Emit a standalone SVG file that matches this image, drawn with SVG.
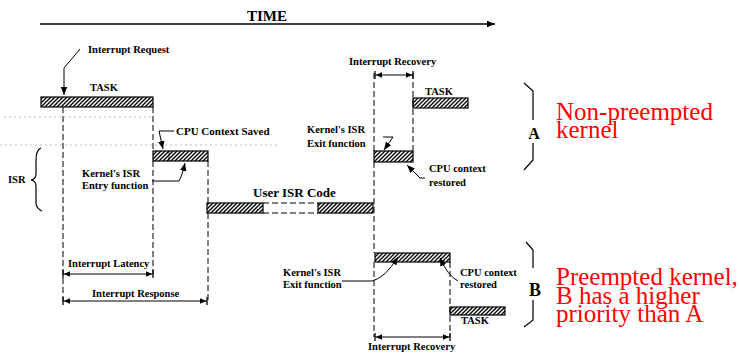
<svg xmlns="http://www.w3.org/2000/svg" width="740" height="357" viewBox="0 0 740 357">
<defs>
<pattern id="hatch" patternUnits="userSpaceOnUse" width="4" height="4">
<path d="M-1,1 L1,-1 M0,4 L4,0 M3,5 L5,3" stroke="#000" stroke-width="1.3"/>
</pattern>
<marker id="ah" viewBox="0 0 10 10" refX="10" refY="5" markerWidth="8" markerHeight="8" markerUnits="userSpaceOnUse" orient="auto"><path d="M0,1 L10,5 L0,9 z" fill="#000"/></marker>
<marker id="dim" viewBox="0 0 10 10" refX="9" refY="5" markerWidth="8" markerHeight="8" markerUnits="userSpaceOnUse" orient="auto-start-reverse"><path d="M0,1.5 L8,5 L0,8.5 z" fill="#000"/><path d="M9,0 V10" stroke="#000" stroke-width="1.6"/></marker>
</defs>
<style>
text{font-family:'Liberation Serif','Times New Roman','DejaVu Serif',serif}
.lbl{font-weight:bold;font-size:10.5px;fill:#000}
.bar{fill:url(#hatch);stroke:#000;stroke-width:1.2}
.dash{stroke:#000;stroke-width:1;stroke-dasharray:6 3;fill:none}
.faint{stroke:#aaa;stroke-width:0.8;stroke-dasharray:2 3;fill:none}
.ld{stroke:#000;stroke-width:1;fill:none}
.br{stroke:#000;stroke-width:1.2;fill:none}
.red{font-size:25px;fill:#f00}
</style>
<rect width="740" height="357" fill="#fff"/>

<g id="time">
<text class="lbl" x="247" y="21" font-family="Liberation Serif, serif" style="font-size:15px">TIME</text>
</g>

<g id="connectors">
<line x1="40" y1="24" x2="495" y2="24" stroke="#000" stroke-width="1.5" marker-end="url(#ah)"/>
<path class="faint" d="M4,117 H153 M0,145 H280"/>
<path class="dash" d="M63,107 V301 M153,107 V151 M153,161 V274 M208,161 V203 M208,213 V300 M374,73 V151 M374,162 V253 M374,262 V337 M413,73 V151 M450,262 V337"/>
<line class="ld" x1="63" y1="274" x2="153" y2="274" marker-start="url(#dim)" marker-end="url(#dim)"/>
<line class="ld" x1="63" y1="301" x2="207" y2="301" marker-start="url(#dim)" marker-end="url(#dim)"/>
<line class="ld" x1="375" y1="75" x2="413" y2="75" marker-start="url(#dim)" marker-end="url(#dim)"/>
<line class="ld" x1="375" y1="337" x2="450" y2="337" marker-start="url(#dim)" marker-end="url(#dim)"/>
<path class="ld" d="M80,49 L64,68 L64,95" marker-end="url(#ah)"/>
<path class="ld" d="M174,131 L159,131 L163,149" marker-end="url(#ah)"/>
<path class="ld" d="M152,181 L179,181 Q182,176 185,163" marker-end="url(#ah)"/>
<path class="ld" d="M383,137 L393,137 L384,150" marker-end="url(#ah)"/>
<path class="ld" d="M425,178 L420,178 L407,165" marker-end="url(#ah)"/>
<path class="ld" d="M342,281 L372,281 Q385,278 398,257" marker-end="url(#ah)"/>
<path class="ld" d="M458,281 Q448,276 440,258" marker-end="url(#ah)"/>
</g>

<g id="interrupt-request"><text class="lbl" x="88" y="53">Interrupt Request</text></g>

<g id="task1">
<rect class="bar" x="41" y="97" width="112" height="10"/>
<text class="lbl" x="90" y="91">TASK</text>
</g>

<g id="cpu-context-saved">
<rect class="bar" x="153" y="151" width="55" height="10"/>
<line x1="169" y1="151" x2="169" y2="161" stroke="#000" stroke-width="0.8"/>
<text class="lbl" x="176" y="135" style="font-size:11px">CPU Context Saved</text>
</g>

<g id="entry-function">
<text class="lbl" x="82" y="177">Kernel's ISR</text>
<text class="lbl" x="82" y="189">Entry function</text>
</g>

<g id="isr">
<path class="br" d="M41,148 Q36,150 36,160 L36,174 Q36,179 31,180 Q36,181 36,186 L36,203 Q36,208 42,211"/>
<text class="lbl" x="8" y="183">ISR</text>
</g>

<g id="user-isr">
<rect class="bar" x="207" y="203" width="56" height="10"/>
<path class="dash" d="M263,203 H318 M263,213 H318"/>
<rect class="bar" x="318" y="203" width="55" height="10"/>
<text class="lbl" x="253" y="197" style="font-size:13px">User ISR Code</text>
</g>

<g id="latency"><text class="lbl" x="68" y="267">Interrupt Latency</text></g>
<g id="response"><text class="lbl" x="92" y="297">Interrupt Response</text></g>

<g id="recovery-a"><text class="lbl" x="349" y="65">Interrupt Recovery</text></g>

<g id="task-a">
<rect class="bar" x="413" y="98" width="55" height="10"/>
<text class="lbl" x="425" y="95">TASK</text>
</g>

<g id="exit-a">
<rect class="bar" x="374" y="151" width="39" height="11"/>
<text class="lbl" x="307" y="133">Kernel's ISR</text>
<text class="lbl" x="307" y="147">Exit function</text>
</g>

<g id="restored-a">
<text class="lbl" x="429" y="172">CPU context</text>
<text class="lbl" x="429" y="186">restored</text>
</g>

<g id="exit-b">
<rect class="bar" x="375" y="253" width="75" height="9"/>
<text class="lbl" x="283" y="276">Kernel's ISR</text>
<text class="lbl" x="283" y="288">Exit function</text>
</g>

<g id="restored-b">
<text class="lbl" x="460" y="276">CPU context</text>
<text class="lbl" x="460" y="288">restored</text>
</g>

<g id="task-b">
<rect class="bar" x="450" y="307" width="55" height="8"/>
<text class="lbl" x="461" y="324">TASK</text>
</g>

<g id="recovery-b"><text class="lbl" x="368" y="350">Interrupt Recovery</text></g>

<g id="group-a">
<path class="br" d="M524,83 L533,91 L533,120 M533,143 L533,160 L524,170"/>
<text class="lbl" x="534" y="139" text-anchor="middle" style="font-size:16px">A</text>
<text class="red" x="556" y="120">Non-preempted</text>
<text class="red" x="556" y="138">kernel</text>
</g>

<g id="group-b">
<path class="br" d="M526,242 L533,250 L533,268 M533,300 L533,320 L524,327"/>
<text class="lbl" x="535" y="296" text-anchor="middle" style="font-size:18px">B</text>
<text class="red" x="556" y="285">Preempted kernel,</text>
<text class="red" x="556" y="304">B has a higher</text>
<text class="red" x="556" y="322">priority than A</text>
</g>
</svg>
